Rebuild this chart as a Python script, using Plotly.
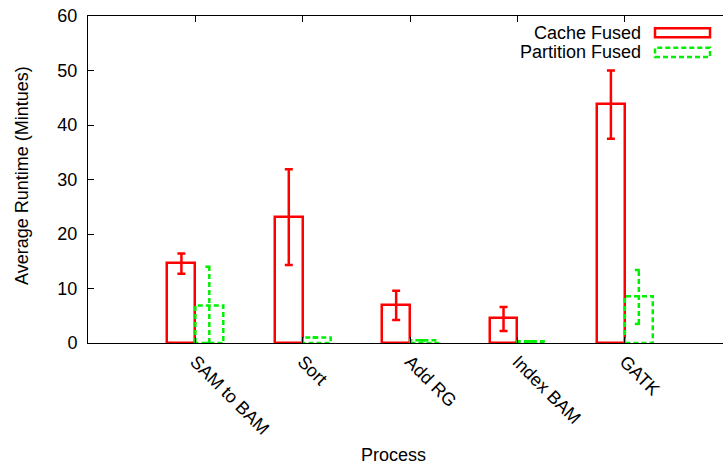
import plotly.graph_objects as go

categories = ["SAM to BAM", "Sort", "Add RG", "Index BAM", "GATK"]
cache = [14.6, 23.1, 7.0, 4.5, 43.8]
cache_lo = [12.7, 14.3, 4.2, 2.2, 37.5]
cache_hi = [16.4, 31.9, 9.6, 6.6, 50.0]
partition = [6.9, 1.0, 0.5, 0.3, 8.6]
partition_lo = [0.0, 1.0, 0.5, 0.3, 3.5]
partition_hi = [14.0, 1.0, 0.5, 0.3, 13.4]
series_names = ["Cache Fused", "Partition Fused"]

RED = "#ff0000"
GREEN = "#00f000"
BW = 0.26
CAP = 0.037
FONT = "Liberation Sans, Arial, sans-serif"
FS = 18

idx = list(range(len(categories)))
fig = go.Figure()

# Cache Fused bars (hollow, solid red outline)
fig.add_trace(go.Bar(
    x=idx, y=cache, width=BW, offset=-BW,
    marker=dict(color="rgba(0,0,0,0)", line=dict(color=RED, width=2.5)),
    showlegend=False, name=series_names[0]))

# Cache Fused error bars
fig.add_trace(go.Scatter(
    x=[i - BW / 2 for i in idx], y=cache, mode="markers",
    marker=dict(size=1, color="rgba(0,0,0,0)"),
    error_y=dict(type="data", symmetric=False,
                 array=[h - v for h, v in zip(cache_hi, cache)],
                 arrayminus=[v - l for v, l in zip(cache, cache_lo)],
                 color=RED, thickness=2.5, width=4),
    showlegend=False))

# Partition Fused bars (hollow, dashed green outline)
bx, by = [], []
for i, v in zip(idx, partition):
    bx += [i, i, i + BW, i + BW, i, None]
    by += [0, v, v, 0, 0, None]
fig.add_trace(go.Scatter(
    x=bx, y=by, mode="lines",
    line=dict(color=GREEN, width=2.5, dash="5px,3px"),
    showlegend=False, name=series_names[1]))

# Partition Fused error bars (dashed)
ex, ey = [], []
for i, l, h in zip(idx, partition_lo, partition_hi):
    xc = i + BW / 2
    ex += [xc, xc, None, xc - CAP, xc + CAP, None, xc - CAP, xc + CAP, None]
    ey += [l, h, None, h, h, None, l, l, None]
fig.add_trace(go.Scatter(
    x=ex, y=ey, mode="lines",
    line=dict(color=GREEN, width=2.5, dash="5px,3px"),
    showlegend=False))

W, H = 723, 466
L, T, B = 88, 16, 123
pw, ph = W - L, H - T - B


def px(x):
    return (x - L) / pw


def py(y):
    return 1 - (y - T) / ph


annotations = [
    dict(text="Process", x=px(393), y=py(455), xref="paper", yref="paper",
         showarrow=False, xanchor="center", yanchor="middle",
         font=dict(family=FONT, size=FS, color="black")),
    dict(text="Average Runtime (Mintues)", x=px(22), y=py(176), xref="paper", yref="paper",
         showarrow=False, xanchor="center", yanchor="middle", textangle=-90,
         font=dict(family=FONT, size=FS, color="black")),
    dict(text=series_names[0], x=px(643), y=py(33), xref="paper", yref="paper",
         showarrow=False, xanchor="right", yanchor="middle",
         font=dict(family=FONT, size=FS, color="black")),
    dict(text=series_names[1], x=px(643), y=py(52.5), xref="paper", yref="paper",
         showarrow=False, xanchor="right", yanchor="middle",
         font=dict(family=FONT, size=FS, color="black")),
]
shapes = [
    dict(type="rect", xref="paper", yref="paper",
         x0=px(655), x1=px(710), y0=py(37.3), y1=py(28.3),
         line=dict(color=RED, width=2.5)),
    dict(type="rect", xref="paper", yref="paper",
         x0=px(655), x1=px(710), y0=py(57), y1=py(47.7),
         line=dict(color=GREEN, width=2.5, dash="5px,3px")),
]

fig.update_layout(
    width=W, height=H,
    margin=dict(l=L, r=0, t=T, b=B),
    plot_bgcolor="white", paper_bgcolor="white",
    font=dict(family=FONT, size=FS, color="black"),
    annotations=annotations, shapes=shapes,
    bargap=0,
)
fig.update_xaxes(
    range=[-1.0, 4.914], tickvals=idx, ticktext=categories, tickangle=45,
    ticks="inside", ticklen=6, tickcolor="black", tickwidth=1,
    showline=True, linecolor="black", linewidth=1, mirror="ticks",
    showgrid=False, zeroline=False,
    tickfont=dict(family=FONT, size=FS, color="black"),
)
fig.update_yaxes(
    range=[0, 60], dtick=10, ticks="inside", ticklen=6, tickcolor="black", tickwidth=1,
    showline=True, linecolor="black", linewidth=1, mirror=False,
    showgrid=False, zeroline=False, ticklabelstandoff=6,
    tickfont=dict(family=FONT, size=FS, color="black"),
)

fig.write_html("out.html")
